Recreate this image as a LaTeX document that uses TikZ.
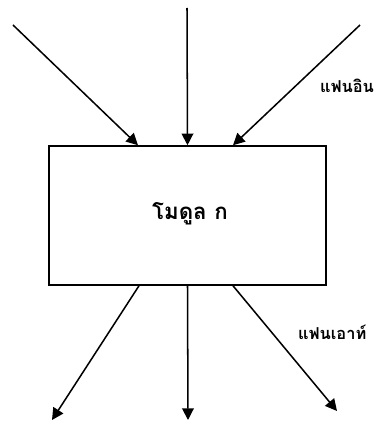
\documentclass[tikz,border=0pt]{standalone}
\usepackage{fontspec}
\usepackage{tikz}
\usetikzlibrary{arrows.meta,positioning}
\newfontfamily\thaifont[Script=Thai]{Loma}
\tikzset{
  modbox/.style = {rectangle, draw=black, line width=1.3pt, minimum width=8.31cm,
                   minimum height=4.17cm, inner sep=0pt},
  fan/.style    = {-{Triangle[length=10pt,width=10pt]}, draw=black, line width=1.3pt},
  lab/.style    = {font=\thaifont\bfseries\fontsize{14}{16}\selectfont, inner sep=0pt, anchor=west},
}
\begin{document}
\begin{tikzpicture}[x=0.03cm, y=-0.03cm]
  \useasboundingbox (0,0) rectangle (389,423);
  \node[modbox] (mod) at (187.5,215.5) {};
  \node[font=\thaifont\bfseries\fontsize{19}{22}\selectfont] (name) at (190,214) {โมดูล ก};

  \coordinate (i1) at (13,25);
  \coordinate (i2) at (187,8);
  \coordinate (i3) at (360,25);
  \coordinate (o1) at (52,420);
  \coordinate (o2) at (188,420);
  \coordinate (o3) at (337,411);

  \draw[fan] (i1) -- ([xshift=-1.485cm]mod.north);
  \draw[fan] (i2) -- (mod.north);
  \draw[fan] (i3) -- ([xshift=1.365cm]mod.north);
  \draw[fan] ([xshift=-1.455cm]mod.south) -- (o1);
  \draw[fan] (mod.south) -- (o2);
  \draw[fan] ([xshift=1.365cm]mod.south) -- (o3);

  \node[lab] (fanin) at (320,86) {แฟนอิน};
  \node[lab] (fanout) at (298,332) {แฟนเอาท์};
\end{tikzpicture}
\end{document}
